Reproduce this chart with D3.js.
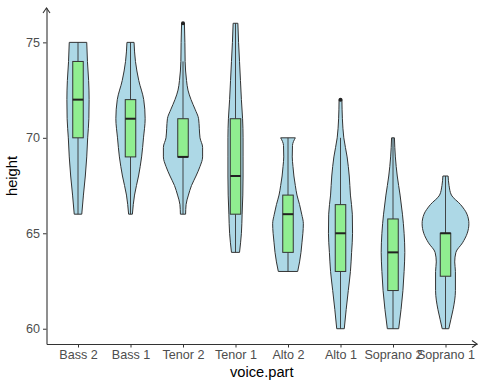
<!DOCTYPE html>
<html>
<head>
<meta charset="utf-8">
<script src="https://cdn.jsdelivr.net/npm/d3@7"></script>
<style>
  body { margin: 0; background: #fff; }
  text { font-family: "Liberation Sans", Arial, sans-serif; }
</style>
</head>
<body>
<script>
// ---------- data ----------
const categories = ["Bass 2", "Bass 1", "Tenor 2", "Tenor 1", "Alto 2", "Alto 1", "Soprano 2", "Soprano 1"];
const yTicks = [60, 65, 70, 75];

// box statistics (height, inches)
const q1          = [70, 69, 69, 66, 64, 63, 62, 62.75];
const median      = [72, 71, 69, 68, 66, 65, 64, 65];
const q3          = [74, 72, 71, 71, 67, 66.5, 65.75, 65];
const whiskerLow  = [66, 66, 66, 64, 63, 60, 60, 60];
const whiskerHigh = [75, 75, 74, 76, 70, 70, 70, 68];
const outlierPart   = ["Tenor 2", "Alto 1"];
const outlierHeight = [76, 72];

// violin density profiles: [height, relative density]
const violinBass2 = [[66,0.16],[67,0.23],[68,0.31],[69,0.37],[70,0.41],[71,0.46],[72,0.47],[73,0.45],[74,0.40],[75,0.37]];
const violinBass1 = [[66,0.08],[67,0.17],[68,0.34],[69,0.47],[70,0.55],[71,0.62],[72,0.56],[73,0.35],[74,0.21],[75,0.15]];
const violinTenor2 = [[66,0.11],[66.5,0.13],[67,0.23],[67.5,0.36],[68,0.55],[68.5,0.72],[69,0.83],[69.5,0.83],[70,0.72],[70.5,0.69],[71,0.66],[71.5,0.51],[72,0.34],[72.5,0.21],[73,0.15],[74,0.09],[75,0.08],[76,0.06]];
const violinTenor1 = [[64,0.17],[65,0.25],[66,0.28],[67,0.31],[68,0.32],[69,0.32],[70,0.32],[71,0.30],[72,0.25],[73,0.21],[74,0.17],[75,0.13],[76,0.10]];
const violinAlto2 = [[63,0.41],[63.5,0.49],[64,0.55],[64.5,0.59],[65,0.63],[65.5,0.65],[66,0.58],[66.5,0.49],[67,0.38],[67.5,0.31],[68,0.25],[68.5,0.21],[69,0.18],[69.6,0.19],[70,0.31]];
const violinAlto1 = [[60,0.16],[61,0.24],[62,0.33],[63,0.42],[64,0.47],[65,0.51],[66,0.50],[67,0.42],[68,0.37],[69,0.28],[70,0.14],[71,0.08],[72,0.06]];
const violinSoprano2 = [[60,0.24],[61,0.34],[62,0.42],[63,0.47],[64,0.50],[65,0.47],[66,0.40],[67,0.30],[68,0.18],[69,0.10],[70,0.06]];
const violinSoprano1 = [[60,0.14],[60.5,0.23],[61,0.32],[62,0.42],[63,0.42],[63.5,0.39],[64,0.44],[64.5,0.72],[65,0.92],[65.5,0.99],[66,0.91],[66.5,0.64],[67,0.25],[67.5,0.15],[68,0.11]];
const violins = [violinBass2, violinBass1, violinTenor2, violinTenor1, violinAlto2, violinAlto1, violinSoprano2, violinSoprano1];

// ---------- layout ----------
const W = 485, H = 388;
const mLeft = 46.5, mRight = 477, mTop = 8, mBottom = 344;

const svg = d3.select("body").append("svg").attr("width", W).attr("height", H);

const x = d3.scalePoint().domain(categories).range([mLeft, mRight]).padding(0.6);
const y = d3.scaleLinear().domain([59.2, 76.8]).range([mBottom, mTop]);
const step = x.step();
const w = d3.scaleLinear().domain([0, 1]).range([0, 0.45 * step]);

// ---------- violins ----------
const g = svg.append("g");
categories.forEach((c, i) => {
  const cx = x(c);
  const area = d3.area()
    .curve(d3.curveMonotoneY)
    .y(d => y(d[0]))
    .x0(d => cx - w(d[1]))
    .x1(d => cx + w(d[1]));
  g.append("path")
    .attr("d", area(violins[i]))
    .attr("fill", "#ADD8E6")
    .attr("stroke", "#333")
    .attr("stroke-width", 1);
});

// ---------- boxplots ----------
const boxW = 0.2 * step;
categories.forEach((c, i) => {
  const cx = x(c);
  const bg = g.append("g");
  bg.append("line").attr("x1", cx).attr("x2", cx)
    .attr("y1", y(whiskerLow[i])).attr("y2", y(q1[i]))
    .attr("stroke", "#333").attr("stroke-width", 0.9);
  bg.append("line").attr("x1", cx).attr("x2", cx)
    .attr("y1", y(q3[i])).attr("y2", y(whiskerHigh[i]))
    .attr("stroke", "#333").attr("stroke-width", 0.9);
  bg.append("rect")
    .attr("x", cx - boxW / 2).attr("width", boxW)
    .attr("y", y(q3[i])).attr("height", y(q1[i]) - y(q3[i]))
    .attr("fill", "#90EE90").attr("stroke", "#333").attr("stroke-width", 1);
  bg.append("line")
    .attr("x1", cx - boxW / 2).attr("x2", cx + boxW / 2)
    .attr("y1", y(median[i])).attr("y2", y(median[i]))
    .attr("stroke", "#222").attr("stroke-width", 2);
});
outlierPart.forEach((p, i) => {
  g.append("circle").attr("cx", x(p)).attr("cy", y(outlierHeight[i]))
    .attr("r", 2).attr("fill", "#222");
});

// ---------- axes ----------
const yAxis = d3.axisLeft(y).tickValues(yTicks).tickSize(3.5).tickSizeOuter(0).tickPadding(3);
const ya = svg.append("g").attr("transform", `translate(${mLeft},0)`).call(yAxis);
const xAxis = d3.axisBottom(x).tickSize(3.5).tickSizeOuter(0).tickPadding(3);
const xa = svg.append("g").attr("transform", `translate(0,${mBottom})`).call(xAxis);

[ya, xa].forEach(a => {
  a.select(".domain").attr("stroke", "#333").attr("stroke-width", 1.1);
  a.selectAll(".tick line").attr("stroke", "#333");
  a.selectAll(".tick text").attr("fill", "#4D4D4D").style("font-size", "12.6px")
    .style("font-family", '"Liberation Sans", Arial, sans-serif');
});

// arrow heads
svg.append("path")
  .attr("d", `M${mLeft - 3.5},${mTop + 5} L${mLeft},${mTop} L${mLeft + 3.5},${mTop + 5}`)
  .attr("fill", "none").attr("stroke", "#333").attr("stroke-width", 1.1);
svg.append("path")
  .attr("d", `M${mRight - 5},${mBottom - 3.5} L${mRight},${mBottom} L${mRight - 5},${mBottom + 3.5}`)
  .attr("fill", "none").attr("stroke", "#333").attr("stroke-width", 1.1);

// titles
svg.append("text")
  .attr("x", (mLeft + mRight) / 2).attr("y", 377)
  .attr("text-anchor", "middle").style("font-size", "14.7px").attr("fill", "#000")
  .text("voice.part");
svg.append("text")
  .attr("transform", `translate(17,${(mTop + mBottom) / 2}) rotate(-90)`)
  .attr("text-anchor", "middle").style("font-size", "14.7px").attr("fill", "#000")
  .text("height");
</script>
</body>
</html>
